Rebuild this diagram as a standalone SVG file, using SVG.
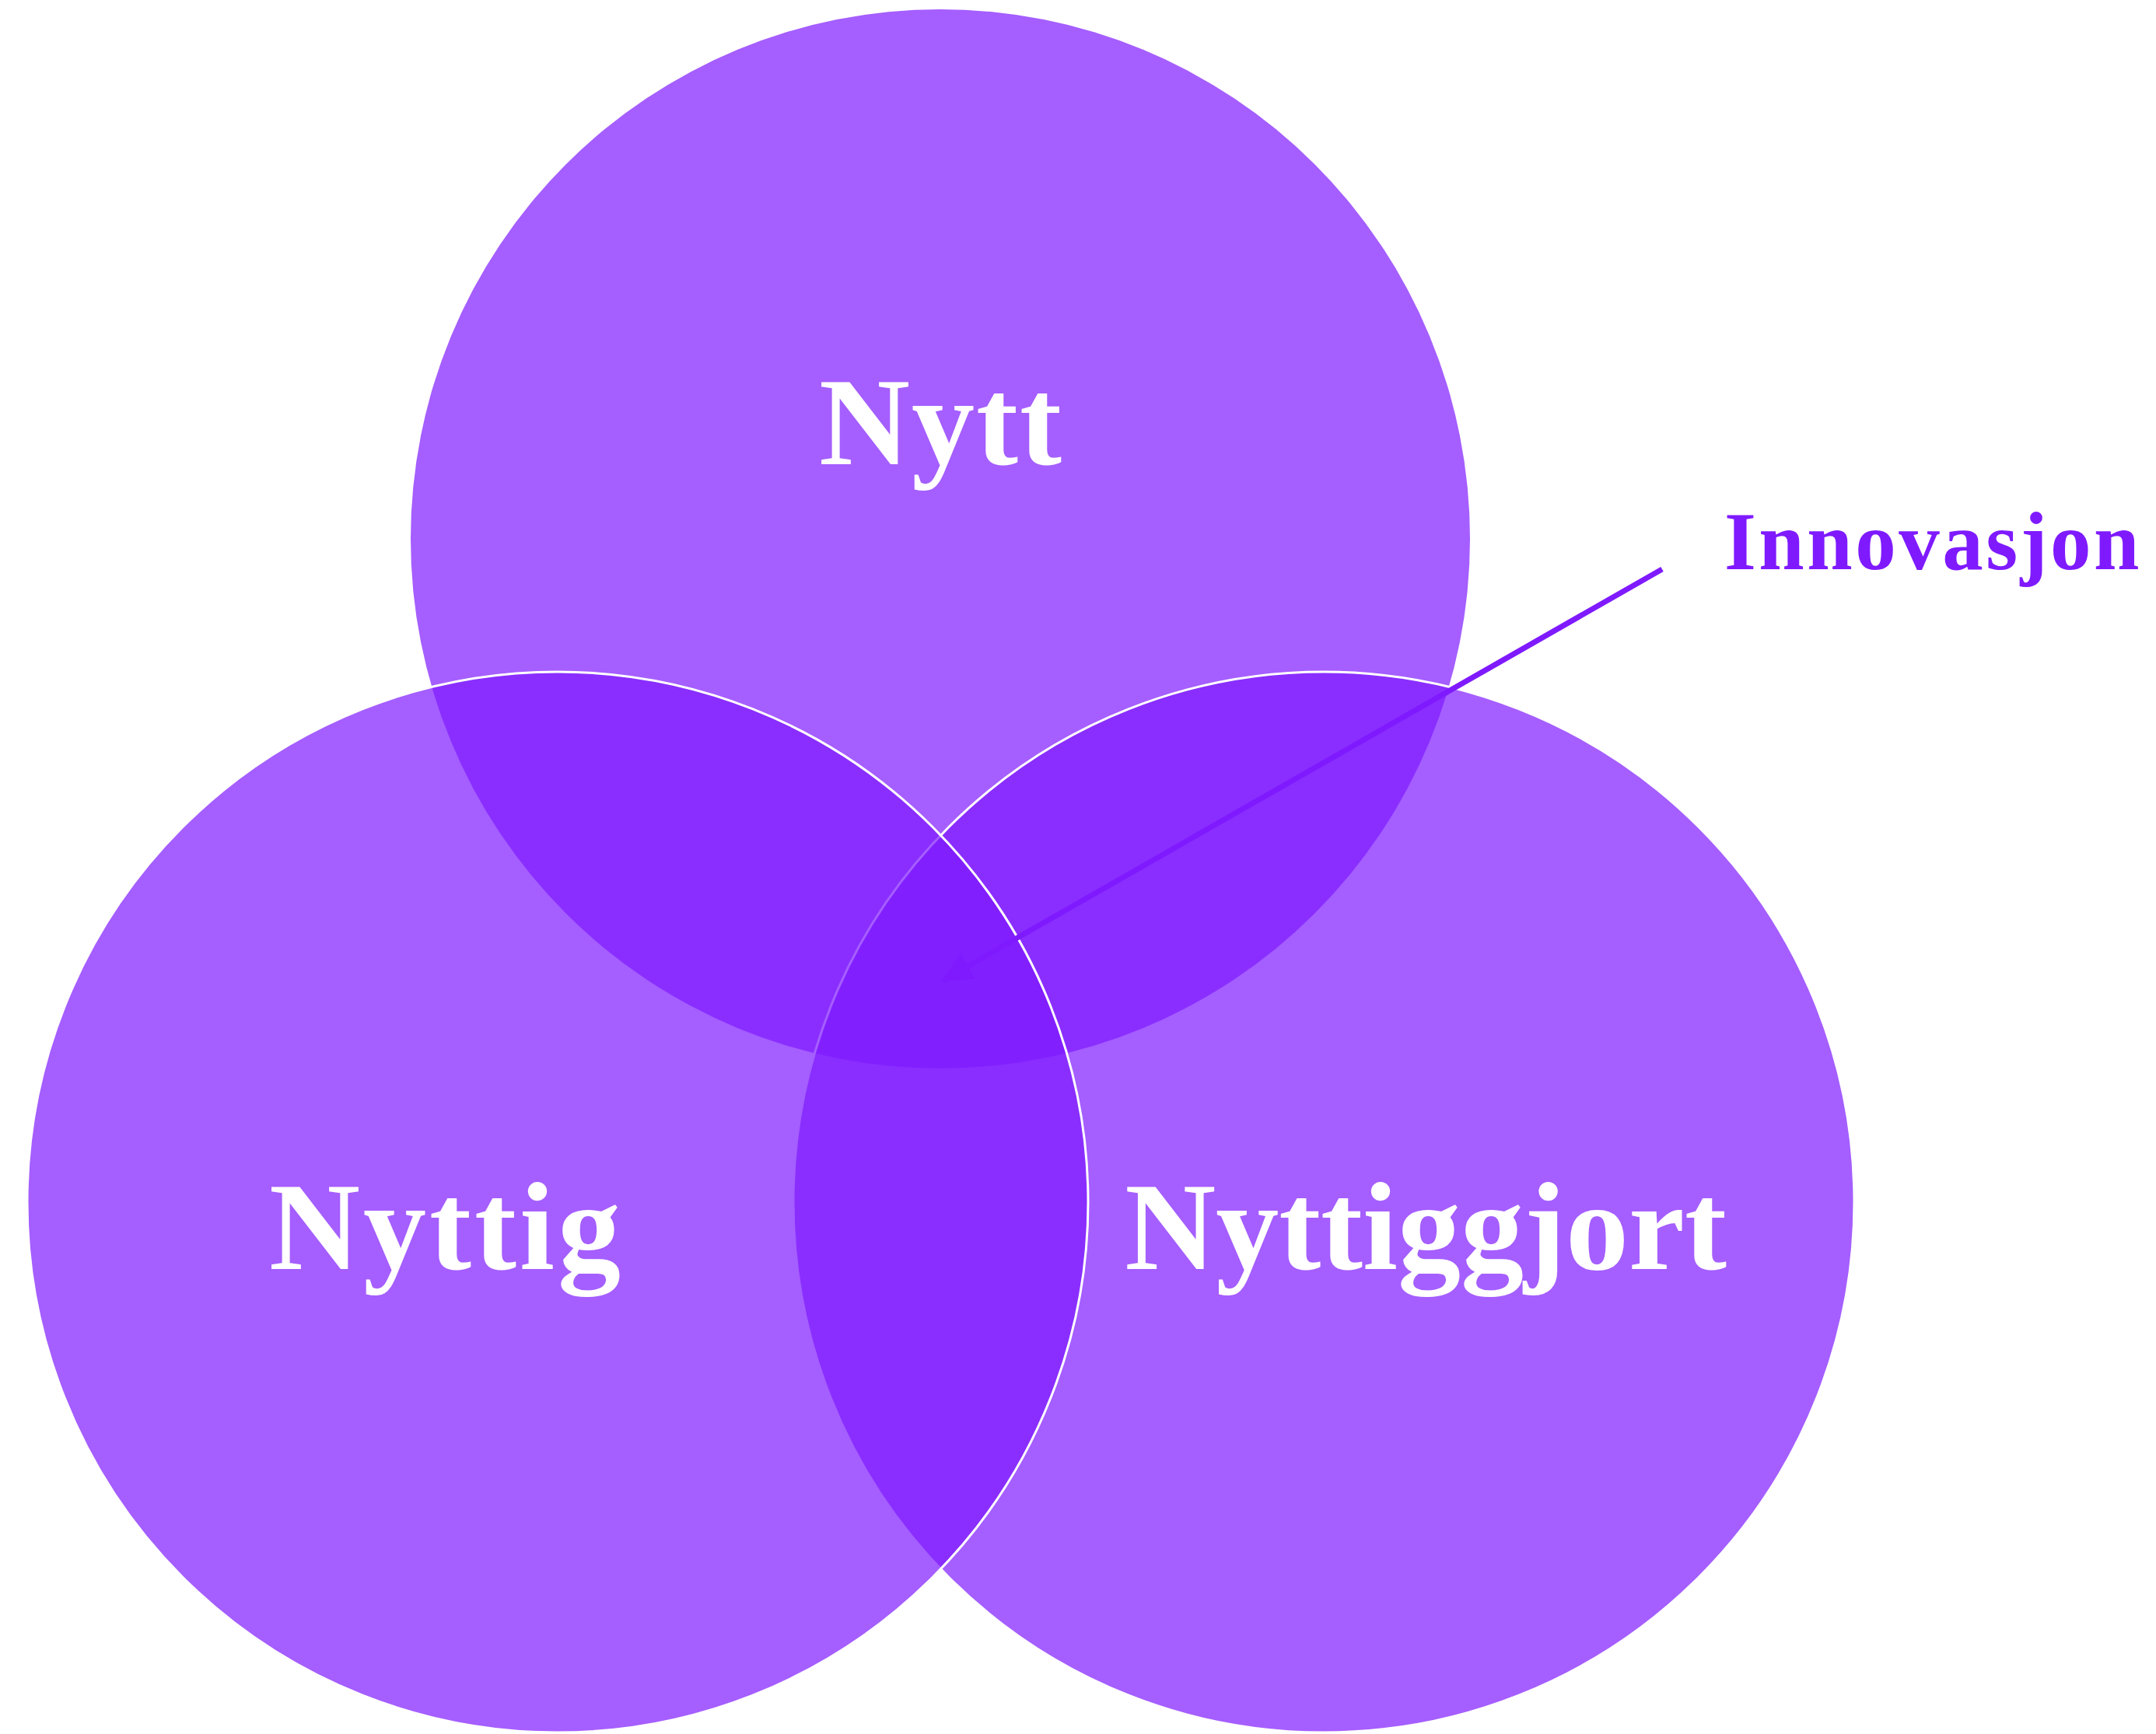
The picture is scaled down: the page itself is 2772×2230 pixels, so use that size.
<svg xmlns="http://www.w3.org/2000/svg" width="2772" height="2230" viewBox="0 0 2772 2230">
<style>
.c{fill:#7F1AFF;fill-opacity:0.7}
.s{stroke:#FFFFFF;stroke-width:3}
</style>
<defs>
<marker id="ah" markerUnits="userSpaceOnUse" markerWidth="40" markerHeight="40" viewBox="0 0 30 28" refX="28" refY="14" orient="auto">
<path d="M0,0 L30,14 L0,28 Z" fill="#7F1AFF"/>
</marker>
</defs>
<rect width="2772" height="2230" fill="#FFFFFF"/>
<g id="nytt">
<circle class="c" cx="1209" cy="693" r="681"/>
</g>
<g id="nyttiggjort">
<circle class="c s" cx="1702" cy="1546" r="682"/>
</g>
<g id="nyttig">
<circle class="c s" cx="717" cy="1546" r="682"/>
</g>
<g id="labels">
<text x="1210" y="597" font-family="Liberation Serif" font-weight="bold" font-size="162" fill="#FFFFFF" text-anchor="middle" letter-spacing="2">Nytt</text>
<text x="574" y="1632" font-family="Liberation Serif" font-weight="bold" font-size="162" fill="#FFFFFF" text-anchor="middle" letter-spacing="4">Nyttig</text>
<text x="1833" y="1632" font-family="Liberation Serif" font-weight="bold" font-size="162" fill="#FFFFFF" text-anchor="middle">Nyttiggjort</text>
</g>
<g id="connectors">
<line x1="2137" y1="732" x2="1212" y2="1261" stroke="#7F1AFF" stroke-width="7" marker-end="url(#ah)"/>
</g>
<g id="innovasjon">
<text x="2217" y="732" font-family="Liberation Serif" font-weight="bold" font-size="105" fill="#7F1AFF" letter-spacing="3.5">Innovasjon</text>
</g>
</svg>
